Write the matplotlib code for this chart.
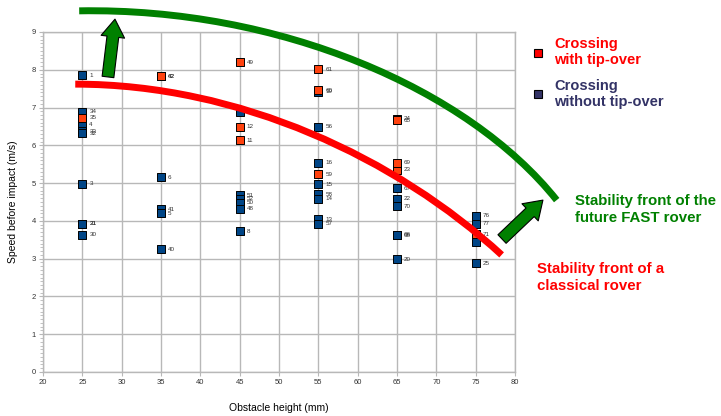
import matplotlib
matplotlib.use("Agg")
import matplotlib.pyplot as plt
from matplotlib.lines import Line2D
from matplotlib.path import Path
from matplotlib.patches import PathPatch
from matplotlib.ticker import MultipleLocator

plt.rcParams["font.family"] = ["Liberation Sans", "DejaVu Sans"]

# ---------------------------------------------------------------------------
# Data
# ---------------------------------------------------------------------------
# crossings that ended with a tip-over
tip_x = [25, 35, 35, 45, 45, 45, 55, 55, 55, 65, 65, 65, 65, 75]
tip_y = [6.73, 7.83, 7.83, 8.20, 6.49, 6.13, 8.02, 7.46, 5.23, 6.71, 6.67, 5.36, 5.54, 3.64]
tip_lab = ["35", "62", "42", "49", "12", "11", "61", "60", "59", "24", "65", "23", "69", "71"]

# crossings without tip-over
ok_x = [25, 25, 25, 25, 25, 25, 25, 25, 25,
        35, 35, 35, 35,
        45, 45, 45, 45, 45, 45,
        55, 55, 55, 55, 55, 55, 55, 55,
        65, 65, 65, 65, 65, 65,
        75, 75, 75, 75]
ok_y = [7.85, 6.89, 6.56, 6.37, 6.32, 4.98, 3.93, 3.92, 3.63,
        5.15, 4.31, 4.20, 3.25,
        6.89, 4.68, 4.58, 4.48, 4.32, 3.73,
        7.42, 6.49, 5.54, 4.97, 4.71, 4.59, 4.04, 3.92,
        4.86, 4.58, 4.39, 3.63, 3.62, 2.99,
        4.13, 3.92, 3.45, 2.88]
ok_lab = ["1", "34", "4", "33", "32", "3", "21", "31", "30",
          "6", "41", "5", "40",
          "47", "51", "52", "50", "48", "8",
          "19", "56", "16", "15", "58", "14", "13", "57",
          "67", "22", "70", "66", "68", "20",
          "76", "77", "72", "25"]

# hand-drawn stability fronts (cubic Bezier: start, two control points, end)
classic_x = [24.1, 45.0, 65.0, 78.3]
classic_y = [7.62, 7.62, 5.65, 3.10]

fast_x = [24.6, 50.0, 74.0, 85.3]
fast_y = [9.56, 9.65, 7.50, 4.55]

# arrows (tail, tip) in data units
arrow_up = ((28.26, 7.81), (29.15, 9.34))
arrow_right = ((78.35, 3.52), (83.55, 4.55))

# ---------------------------------------------------------------------------
ORANGE = "#ff420e"
BLUE = "#004586"
GRID = "#b8b8b8"
GREEN = "#008000"

fig = plt.figure(figsize=(7.21, 4.16), dpi=100)
ax = fig.add_axes([43 / 721, 44 / 416, 472 / 721, 340 / 416])

ax.set_xlim(20, 80)
ax.set_ylim(0, 9)
ax.xaxis.set_major_locator(MultipleLocator(5))
ax.yaxis.set_major_locator(MultipleLocator(1))
ax.yaxis.set_minor_locator(MultipleLocator(0.1))
ax.grid(True, which="major", color=GRID, linewidth=1.0)
ax.set_axisbelow(True)
for s in ax.spines.values():
    s.set_color(GRID)
    s.set_linewidth(1.0)
ax.tick_params(which="major", length=3, color=GRID, labelsize=5.5, labelcolor="#333333", pad=2)
ax.tick_params(axis="y", which="minor", length=2, color=GRID)

ax.set_xlabel("Obstacle height (mm)", fontsize=7.5, labelpad=12)
ax.set_ylabel("Speed before impact (m/s)", fontsize=7.5, labelpad=10)

# points
ax.scatter(ok_x, ok_y, marker="s", s=28, c=BLUE, edgecolors="black", linewidths=0.7, zorder=3)
ax.scatter(tip_x, tip_y, marker="s", s=28, c=ORANGE, edgecolors="black", linewidths=0.7, zorder=3)
for xs, ys, labs in ((ok_x, ok_y, ok_lab), (tip_x, tip_y, tip_lab)):
    for x, y, t in zip(xs, ys, labs):
        ax.annotate(t, (x, y), xytext=(5, 0), textcoords="offset points",
                    fontsize=4.5, color="#333333", va="center", zorder=3)

# stability fronts
codes = [Path.MOVETO, Path.CURVE4, Path.CURVE4, Path.CURVE4]
for xs, ys, col in ((classic_x, classic_y, "red"), (fast_x, fast_y, GREEN)):
    front = PathPatch(Path(list(zip(xs, ys)), codes), fill=False, edgecolor=col,
                      linewidth=5, capstyle="butt", clip_on=False, zorder=4)
    ax.add_patch(front)

for tail, tip in (arrow_up, arrow_right):
    ax.annotate("", xy=tip, xytext=tail, annotation_clip=False, zorder=5,
                arrowprops=dict(arrowstyle="simple,head_length=0.75,head_width=1.0,tail_width=0.5",
                                mutation_scale=17, fc=GREEN, ec="black", lw=0.8,
                                shrinkA=0, shrinkB=0))

# legend
handles = [Line2D([], [], marker="s", linestyle="", markersize=5.5, markerfacecolor="#ff0000",
                  markeredgecolor="black", markeredgewidth=0.8),
           Line2D([], [], marker="s", linestyle="", markersize=5.5, markerfacecolor="#333366",
                  markeredgecolor="black", markeredgewidth=0.8)]
fig.legend(handles, ["Crossing\nwith tip-over", "Crossing\nwithout tip-over"],
           loc="upper left", bbox_to_anchor=(518 / 721, 1 - 24 / 416), frameon=False,
           labelcolor=["#ff0000", "#333366"], prop=dict(size=10.5, weight="bold"),
           handletextpad=0.6, handlelength=1.0, labelspacing=0.8)

fig.text(575 / 721, 1 - 194 / 416, "Stability front of the\nfuture FAST rover", color=GREEN,
         fontsize=10.8, fontweight="bold", va="top", linespacing=1.3)
fig.text(537 / 721, 1 - 262 / 416, "Stability front of a\nclassical rover", color="#ff0000",
         fontsize=10.8, fontweight="bold", va="top", linespacing=1.3)

fig.savefig("out.png", dpi=100)
